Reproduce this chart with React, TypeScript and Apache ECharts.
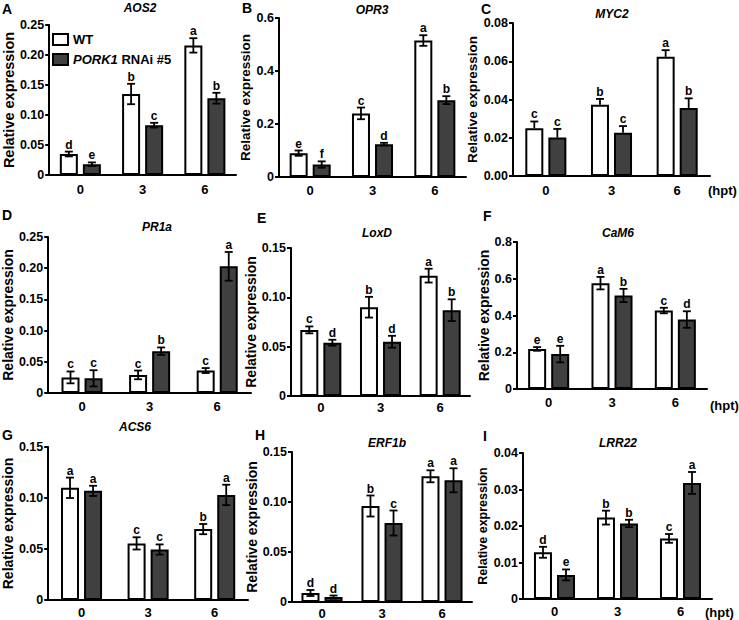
import React, { useEffect, useRef } from 'react';
import * as echarts from 'echarts';

// ---------- DATA ----------
const hpt = ['0', '3', '6'];
const seriesNames = ['WT', 'PORK1 RNAi #5'];

const aos2WT = [0.035, 0.135, 0.216];
const aos2WTErr = [0.004, 0.017, 0.012];
const aos2RNAi = [0.018, 0.083, 0.128];
const aos2RNAiErr = [0.003, 0.004, 0.009];
const aos2WTSig = ['d', 'b', 'a'];
const aos2RNAiSig = ['e', 'c', 'b'];

const opr3WT = [0.09, 0.24, 0.515];
const opr3WTErr = [0.01, 0.022, 0.02];
const opr3RNAi = [0.047, 0.124, 0.29];
const opr3RNAiErr = [0.012, 0.005, 0.015];
const opr3WTSig = ['e', 'c', 'a'];
const opr3RNAiSig = ['f', 'd', 'b'];

const myc2WT = [0.025, 0.0373, 0.0623];
const myc2WTErr = [0.0035, 0.003, 0.0035];
const myc2RNAi = [0.0201, 0.0226, 0.0356];
const myc2RNAiErr = [0.0045, 0.0035, 0.005];
const myc2WTSig = ['c', 'b', 'a'];
const myc2RNAiSig = ['c', 'c', 'b'];

const pr1aWT = [0.025, 0.029, 0.036];
const pr1aWTErr = [0.0095, 0.007, 0.004];
const pr1aRNAi = [0.0235, 0.067, 0.203];
const pr1aRNAiErr = [0.013, 0.006, 0.023];
const pr1aWTSig = ['c', 'c', 'c'];
const pr1aRNAiSig = ['c', 'b', 'a'];

const loxdWT = [0.067, 0.09, 0.122];
const loxdWTErr = [0.0035, 0.0105, 0.007];
const loxdRNAi = [0.054, 0.055, 0.087];
const loxdRNAiErr = [0.003, 0.006, 0.011];
const loxdWTSig = ['c', 'b', 'a'];
const loxdRNAiSig = ['d', 'd', 'b'];

const cam6WT = [0.218, 0.576, 0.427];
const cam6WTErr = [0.01, 0.034, 0.015];
const cam6RNAi = [0.19, 0.509, 0.378];
const cam6RNAiErr = [0.045, 0.036, 0.045];
const cam6WTSig = ['e', 'a', 'c'];
const cam6RNAiSig = ['e', 'b', 'd'];

const acs6WT = [0.11, 0.0555, 0.0695];
const acs6WTErr = [0.01, 0.006, 0.005];
const acs6RNAi = [0.107, 0.0495, 0.103];
const acs6RNAiErr = [0.005, 0.005, 0.01];
const acs6WTSig = ['a', 'c', 'b'];
const acs6RNAiSig = ['a', 'c', 'a'];

const erf1bWT = [0.009, 0.096, 0.1257];
const erf1bWTErr = [0.003, 0.0105, 0.006];
const erf1bRNAi = [0.005, 0.079, 0.1217];
const erf1bRNAiErr = [0.0015, 0.0125, 0.012];
const erf1bWTSig = ['d', 'b', 'a'];
const erf1bRNAiSig = ['d', 'c', 'a'];

const lrr22WT = [0.0128, 0.0223, 0.0166];
const lrr22WTErr = [0.0015, 0.0019, 0.0012];
const lrr22RNAi = [0.0066, 0.0207, 0.0318];
const lrr22RNAiErr = [0.0015, 0.001, 0.003];
const lrr22WTSig = ['d', 'b', 'c'];
const lrr22RNAiSig = ['e', 'b', 'a'];

const geneNames = ['AOS2', 'OPR3', 'MYC2', 'PR1a', 'LoxD', 'CaM6', 'ACS6', 'ERF1b', 'LRR22'];
const panelLetters = ['A', 'B', 'C', 'D', 'E', 'F', 'G', 'H', 'I'];
const yMaxes = [0.25, 0.6, 0.08, 0.25, 0.15, 0.8, 0.15, 0.15, 0.04];
const ySteps = [0.05, 0.2, 0.02, 0.05, 0.05, 0.2, 0.05, 0.05, 0.01];
const yDecimals = [2, 1, 2, 2, 2, 1, 2, 2, 2];
const yZeroAsPlain = [true, true, false, true, true, true, true, true, true];
const upOnlyErr = [false, false, true, false, false, false, false, false, false];

const panelData = [
  [aos2WT, aos2WTErr, aos2RNAi, aos2RNAiErr, aos2WTSig, aos2RNAiSig],
  [opr3WT, opr3WTErr, opr3RNAi, opr3RNAiErr, opr3WTSig, opr3RNAiSig],
  [myc2WT, myc2WTErr, myc2RNAi, myc2RNAiErr, myc2WTSig, myc2RNAiSig],
  [pr1aWT, pr1aWTErr, pr1aRNAi, pr1aRNAiErr, pr1aWTSig, pr1aRNAiSig],
  [loxdWT, loxdWTErr, loxdRNAi, loxdRNAiErr, loxdWTSig, loxdRNAiSig],
  [cam6WT, cam6WTErr, cam6RNAi, cam6RNAiErr, cam6WTSig, cam6RNAiSig],
  [acs6WT, acs6WTErr, acs6RNAi, acs6RNAiErr, acs6WTSig, acs6RNAiSig],
  [erf1bWT, erf1bWTErr, erf1bRNAi, erf1bRNAiErr, erf1bWTSig, erf1bRNAiSig],
  [lrr22WT, lrr22WTErr, lrr22RNAi, lrr22RNAiErr, lrr22WTSig, lrr22RNAiSig],
];

// ---------- LAYOUT ----------
const FONT = '"Liberation Sans", Arial, Helvetica, sans-serif';
const DARK = '#404040';
const grids = [
  { left: 41, top: 25, width: 195, height: 150, nameGap: 27, nameSize: 14.5, labelMargin: 8 },
  { left: 279, top: 18, width: 187, height: 159, nameGap: 22, nameSize: 13.5, labelMargin: 7 },
  { left: 513, top: 23, width: 197, height: 153, nameGap: 28, nameSize: 13.5, labelMargin: 8 },
  { left: 44, top: 237, width: 207, height: 156, nameGap: 29, nameSize: 14, labelMargin: 7 },
  { left: 291, top: 248, width: 179, height: 148, nameGap: 21, nameSize: 14, labelMargin: 5 },
  { left: 517, top: 242, width: 190, height: 147, nameGap: 25, nameSize: 14, labelMargin: 7 },
  { left: 47, top: 447, width: 201, height: 153, nameGap: 30, nameSize: 14, labelMargin: 6 },
  { left: 292, top: 452, width: 180, height: 150, nameGap: 20, nameSize: 14, labelMargin: 5 },
  { left: 523, top: 453, width: 189, height: 146, nameGap: 26, nameSize: 12.5, labelMargin: 6 },
];
const titlePos = [
  [140, 8], [372, 10], [612, 14], [157, 227], [377, 233], [618, 233], [135, 427], [387, 443], [618, 443],
];
const letterPos = [
  [2, 9], [242, 8], [481, 9], [2, 215], [257, 218], [483, 216], [2, 435], [255, 435], [483, 436],
];
const hptPos = [
  [708, 190], [710, 405], [705, 612],
];

const BAR_W = 18;
const BAR_GAP = '28%';
const OFFSET = (BAR_W + BAR_W * 0.28) / 2;

function fmt(p: number) {
  return (v: number) => {
    if (v === 0 && yZeroAsPlain[p]) return '0';
    return v.toFixed(yDecimals[p]);
  };
}

function buildOption() {
  const grid: any[] = [];
  const xAxis: any[] = [];
  const yAxis: any[] = [];
  const series: any[] = [];
  const graphic: any[] = [];

  for (let p = 0; p < 9; p++) {
    const g = grids[p];
    grid.push({ left: g.left, top: g.top, width: g.width, height: g.height, containLabel: false });
    xAxis.push({
      type: 'category',
      gridIndex: p,
      data: hpt,
      axisLine: { lineStyle: { color: '#000', width: 2 } },
      axisTick: { alignWithLabel: true, length: 4, lineStyle: { color: '#000', width: 2 } },
      axisLabel: { color: '#000', fontWeight: 'bold', fontSize: 13, fontFamily: FONT, margin: g.labelMargin },
      splitLine: { show: false },
    });
    yAxis.push({
      type: 'value',
      gridIndex: p,
      min: 0,
      max: yMaxes[p],
      interval: ySteps[p],
      name: 'Relative expression',
      nameLocation: 'middle',
      nameGap: g.nameGap,
      nameTextStyle: { color: '#000', fontWeight: 'bold', fontSize: g.nameSize, fontFamily: FONT },
      axisLine: { show: true, lineStyle: { color: '#000', width: 2 } },
      axisTick: { show: true, length: 4, lineStyle: { color: '#000', width: 2 } },
      axisLabel: { color: '#000', fontWeight: 'bold', fontSize: 12.5, fontFamily: FONT, margin: 5, formatter: fmt(p) },
      splitLine: { show: false },
    });

    const [wt, wtE, ri, riE, wtS, riS] = panelData[p] as any[];
    series.push({
      name: seriesNames[0],
      type: 'bar',
      xAxisIndex: p,
      yAxisIndex: p,
      data: wt,
      barWidth: BAR_W,
      barGap: BAR_GAP,
      itemStyle: { color: '#fff', borderColor: '#000', borderWidth: 2 },
      emphasis: { disabled: true },
    });
    series.push({
      name: seriesNames[1],
      type: 'bar',
      xAxisIndex: p,
      yAxisIndex: p,
      data: ri,
      barWidth: BAR_W,
      barGap: BAR_GAP,
      itemStyle: { color: DARK, borderColor: '#000', borderWidth: 2 },
      emphasis: { disabled: true },
    });

    const errData: number[][] = [];
    const sigs: string[] = [];
    for (let i = 0; i < hpt.length; i++) {
      errData.push([i, wt[i], wtE[i], 0]);
      sigs.push(wtS[i]);
      errData.push([i, ri[i], riE[i], 1]);
      sigs.push(riS[i]);
    }
    const upOnly = upOnlyErr[p];
    series.push({
      type: 'custom',
      xAxisIndex: p,
      yAxisIndex: p,
      data: errData,
      z: 10,
      clip: false,
      silent: true,
      renderItem: (params: any, api: any) => {
        const c = api.value(0);
        const m = api.value(1);
        const e = api.value(2);
        const s = api.value(3);
        const top = api.coord([c, m + e]);
        const x = top[0] + (s === 0 ? -OFFSET : OFFSET);
        const yT = top[1];
        const yB = api.coord([c, upOnly ? m : m - e])[1];
        const ls = { stroke: '#000', lineWidth: 1.8 };
        const children: any[] = [
          { type: 'line', shape: { x1: x, y1: yT, x2: x, y2: yB }, style: ls },
          { type: 'line', shape: { x1: x - 4, y1: yT, x2: x + 4, y2: yT }, style: ls },
        ];
        if (!upOnly) {
          children.push({ type: 'line', shape: { x1: x - 4, y1: yB, x2: x + 4, y2: yB }, style: ls });
        }
        children.push({
          type: 'text',
          style: {
            text: sigs[params.dataIndex],
            x,
            y: yT - 1,
            align: 'center',
            verticalAlign: 'bottom',
            font: `bold 12px ${FONT}`,
            fill: '#000',
          },
        });
        return { type: 'group', children };
      },
    });

    graphic.push({
      type: 'text',
      x: titlePos[p][0],
      y: titlePos[p][1],
      style: {
        text: geneNames[p],
        font: `italic bold 12px ${FONT}`,
        align: 'center',
        verticalAlign: 'middle',
        fill: '#000',
      },
    });
    graphic.push({
      type: 'text',
      x: letterPos[p][0],
      y: letterPos[p][1],
      style: {
        text: panelLetters[p],
        font: `bold 14px ${FONT}`,
        align: 'left',
        verticalAlign: 'middle',
        fill: '#000',
      },
    });
  }

  for (const [hx, hy] of hptPos) {
    graphic.push({
      type: 'text',
      x: hx,
      y: hy,
      style: { text: '(hpt)', font: `bold 13px ${FONT}`, align: 'left', verticalAlign: 'middle', fill: '#000' },
    });
  }

  return {
    animation: false,
    backgroundColor: '#fff',
    grid,
    xAxis,
    yAxis,
    series,
    graphic,
    legend: {
      orient: 'vertical',
      left: 47,
      top: 28,
      itemWidth: 15,
      itemHeight: 11,
      itemGap: 7,
      selectedMode: false,
      data: [
        { name: seriesNames[0], icon: 'rect', itemStyle: { color: '#fff', borderColor: '#000', borderWidth: 2 } },
        { name: seriesNames[1], icon: 'rect', itemStyle: { color: DARK, borderColor: '#000', borderWidth: 2 } },
      ],
      formatter: (name: string) => (name === 'WT' ? '{n|WT}' : '{i|PORK1}{n| RNAi #5}'),
      textStyle: {
        color: '#000',
        fontWeight: 'bold',
        fontSize: 13,
        fontFamily: FONT,
        rich: {
          i: { fontStyle: 'italic', fontWeight: 'bold', fontSize: 13, fontFamily: FONT, color: '#000' },
          n: { fontStyle: 'normal', fontWeight: 'bold', fontSize: 13, fontFamily: FONT, color: '#000' },
        },
      },
    },
  };
}

export default function App() {
  const ref = useRef<HTMLDivElement>(null);
  useEffect(() => {
    document.body.style.margin = '0';
    if (!ref.current) return;
    const chart = echarts.init(ref.current, undefined, { renderer: 'svg' });
    chart.setOption(buildOption() as any);
    return () => chart.dispose();
  }, []);
  return <div ref={ref} style={{ width: 739, height: 620 }} />;
}
